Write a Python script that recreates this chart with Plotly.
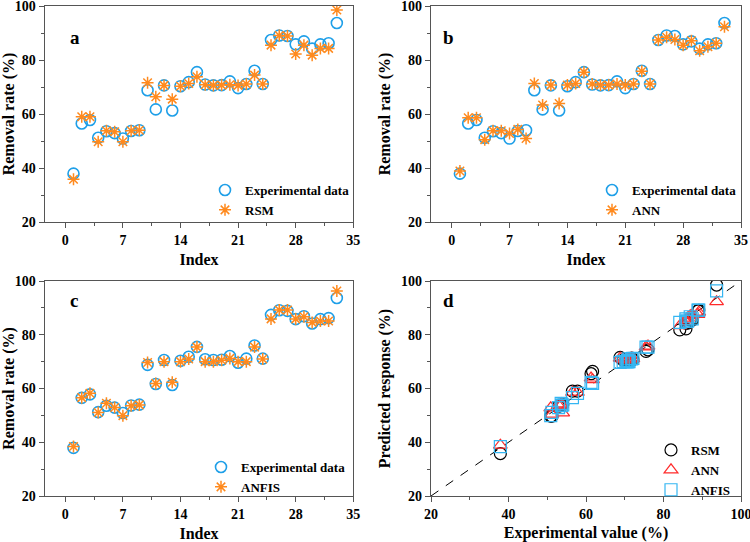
import plotly.graph_objects as go

# Data
index = list(range(1, 34))
experimental = [37.9, 56.5, 57.8, 51.2, 53.6, 52.9, 50.9, 53.7, 54.0, 68.8,
                61.7, 70.6, 61.3, 70.3, 71.8, 75.5, 70.9, 70.6, 70.7, 72.1,
                69.6, 71.1, 76.0, 71.1, 87.4, 89.1, 88.9, 85.8, 86.9, 84.2,
                85.8, 86.2, 93.7]
rsm = [35.8, 59.0, 59.0, 49.7, 53.8, 53.4, 49.7, 53.8, 54.0, 71.6,
       66.4, 70.6, 65.5, 70.3, 71.3, 73.8, 70.8, 70.6, 70.7, 70.8,
       70.6, 71.1, 74.4, 71.1, 85.5, 89.1, 88.9, 82.2, 85.5, 81.8,
       84.3, 84.3, 98.5]
ann = [38.9, 58.6, 58.6, 50.5, 53.8, 53.8, 52.8, 54.3, 50.9, 71.3,
       63.3, 70.7, 63.9, 70.7, 71.3, 75.5, 71.1, 70.7, 70.7, 71.1,
       70.7, 71.1, 75.8, 71.1, 87.4, 88.4, 87.6, 85.5, 87.1, 83.4,
       84.9, 86.2, 92.3]
anfis = [38.4, 56.6, 58.2, 51.1, 54.5, 52.9, 49.9, 53.6, 53.9, 69.7,
         61.9, 70.0, 62.3, 70.0, 71.0, 75.4, 70.0, 70.0, 70.5, 71.2,
         70.0, 70.0, 75.4, 71.0, 85.9, 89.2, 89.2, 85.9, 86.7, 84.6,
         85.1, 85.1, 96.3]
diag = [20, 100]

W, H = 750, 542
BLUE = "#1E9FE8"
ORANGE = "#FF8A1E"
FONT = "Liberation Serif"

fig = go.Figure()

panels = [("x", "y", rsm, "RSM", "legend"),
          ("x2", "y2", ann, "ANN", "legend2"),
          ("x3", "y3", anfis, "ANFIS", "legend3")]
for xa, ya, pred, name, leg in panels:
    fig.add_trace(go.Scatter(x=index, y=experimental, mode="markers", name="Experimental data",
                             xaxis=xa, yaxis=ya, legend=leg,
                             marker=dict(symbol="circle-open", size=11, color=BLUE,
                                         line=dict(color=BLUE, width=1.6))))
    fig.add_trace(go.Scatter(x=index, y=pred, mode="markers", name=name,
                             xaxis=xa, yaxis=ya, legend=leg,
                             marker=dict(symbol="asterisk-open", size=10, color=ORANGE,
                                         line=dict(color=ORANGE, width=1.5))))

# Panel d: predicted vs experimental
fig.add_trace(go.Scatter(x=diag, y=diag, mode="lines", showlegend=False,
                         xaxis="x4", yaxis="y4",
                         line=dict(color="black", width=1, dash="dash")))
fig.add_trace(go.Scatter(x=experimental, y=rsm, mode="markers", name="RSM",
                         xaxis="x4", yaxis="y4", legend="legend4",
                         marker=dict(symbol="circle-open", size=12, color="black",
                                     line=dict(color="black", width=1.2))))
fig.add_trace(go.Scatter(x=experimental, y=ann, mode="markers", name="ANN",
                         xaxis="x4", yaxis="y4", legend="legend4",
                         marker=dict(symbol="triangle-up-open", size=12, color="#FF2A2A",
                                     line=dict(color="#FF2A2A", width=1.2))))
fig.add_trace(go.Scatter(x=experimental, y=anfis, mode="markers", name="ANFIS",
                         xaxis="x4", yaxis="y4", legend="legend4",
                         marker=dict(symbol="square-open", size=12, color="#35B6F2",
                                     line=dict(color="#35B6F2", width=1.2))))


def px_x(p):
    return p / W


def px_y(p):
    return 1 - p / H


dom_left = [px_x(44.7), px_x(353.3)]
dom_right = [px_x(431), px_x(741)]
dom_top = [px_y(222), px_y(6)]
dom_bot = [px_y(496), px_y(281)]

tickfont = dict(family=FONT, size=14, color="black", weight="bold")
titlefont = dict(family=FONT, size=16, color="black", weight="bold")

axis_common = dict(showline=True, linecolor="#555", linewidth=1.2, mirror=True,
                   ticks="outside", ticklen=5, tickwidth=1.2, tickcolor="#555",
                   showgrid=False, zeroline=False, tickfont=tickfont, automargin=False,
                   ticklabeloverflow="allow")

idx_axis = dict(range=[-2.5, 35], tickvals=[0, 7, 14, 21, 28, 35],
                minor=dict(ticks="outside", ticklen=3, tickwidth=1, tickcolor="#555",
                           tickvals=[3.5, 10.5, 17.5, 24.5, 31.5]))
rate_axis = dict(range=[20, 100], tickvals=[20, 40, 60, 80, 100],
                 minor=dict(ticks="outside", ticklen=3, tickwidth=1, tickcolor="#555",
                            tickvals=[30, 50, 70, 90]))


def make_axis(base, dom, anchor, title, standoff):
    ax = dict(axis_common)
    ax.update(base)
    ax.update(domain=dom, anchor=anchor,
              title=dict(text=title, font=titlefont, standoff=standoff))
    return ax


fig.update_layout(
    xaxis=make_axis(idx_axis, dom_left, "y", "Index", 6),
    yaxis=make_axis(rate_axis, dom_top, "x", "Removal rate (%)", 6),
    xaxis2=make_axis(idx_axis, dom_right, "y2", "Index", 6),
    yaxis2=make_axis(rate_axis, dom_top, "x2", "Removal rate (%)", 6),
    xaxis3=make_axis(idx_axis, dom_left, "y3", "Index", 6),
    yaxis3=make_axis(rate_axis, dom_bot, "x3", "Removal rate (%)", 6),
    xaxis4=make_axis(rate_axis, dom_right, "y4", "Experimental value (%)", 6),
    yaxis4=make_axis(rate_axis, dom_bot, "x4", "Predicted response (%)", 6),
)

legend_common = dict(bgcolor="rgba(0,0,0,0)", borderwidth=0, xanchor="left", yanchor="top",
                     font=dict(family=FONT, size=13, color="black", weight="bold"),
                     itemwidth=30, tracegroupgap=0)
fig.update_layout(
    legend=dict(legend_common, x=px_x(205), y=px_y(175)),
    legend2=dict(legend_common, x=px_x(592), y=px_y(175)),
    legend3=dict(legend_common, x=px_x(201), y=px_y(452)),
    legend4=dict(legend_common, x=px_x(651), y=px_y(435)),
)

for label, xp, yp in [("a", 68, 25), ("b", 448, 25), ("c", 68, 300), ("d", 448, 300)]:
    fig.add_annotation(text=label, x=px_x(xp), y=px_y(yp), xref="paper", yref="paper",
                       showarrow=False, font=dict(family=FONT, size=19, color="black", weight="bold"))

fig.update_layout(width=W, height=H, margin=dict(l=0, r=0, t=0, b=0),
                  plot_bgcolor="white", paper_bgcolor="white", showlegend=True)

fig.write_html("out.html", config={"displayModeBar": False},
               post_script="document.body.style.margin='0';")
